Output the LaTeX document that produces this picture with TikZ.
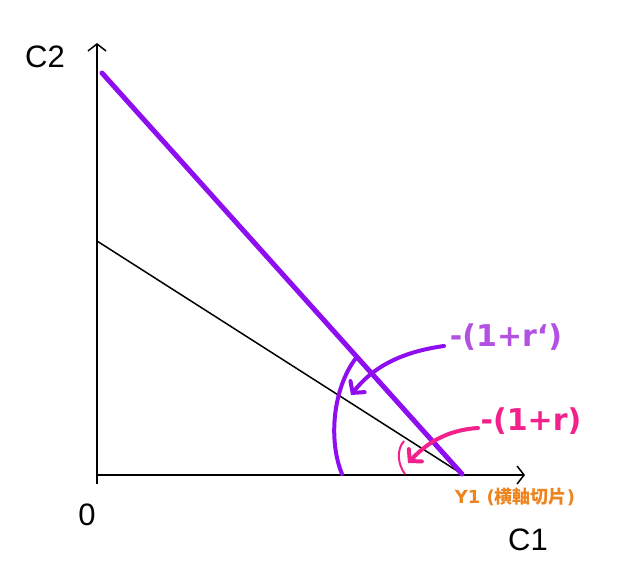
\documentclass[tikz,border=0pt]{standalone}
\usepackage{fontspec}
\setmainfont{Liberation Sans}
\newfontfamily\rfont{DejaVu Sans Bold}
\newfontfamily\cjk{Noto Sans CJK JP}
\usetikzlibrary{arrows.meta}
\definecolor{vio}{HTML}{8E0EF0}
\definecolor{lila}{HTML}{B352E2}
\definecolor{pinkr}{HTML}{F2218C}
\definecolor{orng}{HTML}{EE8420}

\begin{document}
\begin{tikzpicture}[
	x=1pt, y=-1pt,
	axis/.style = {line width=1.5pt, -{Straight Barb[length=7pt, width=18pt]}},
	lbl/.style = {font=\fontsize{31}{31}\selectfont, inner sep=0pt},
	rlbl/.style = {font=\rfont\fontsize{30}{30}\selectfont, inner sep=0pt},
	curly/.style = {line width=4pt, line cap=round, -{Straight Barb[length=8pt, width=18pt, line cap=round]}}
     ]
	\useasboundingbox (0,0) rectangle (620,568);
%
	\coordinate (o) at (97,475);
	\coordinate (ybot) at (97,484);
	\coordinate (ytop) at (97,43);
	\coordinate (xend) at (525,475);
	\coordinate (y1) at (462,474);
	\coordinate (v2) at (102,73);
	\coordinate (v1) at (97,241);
	\coordinate (rpfoot) at (444,346);
	\coordinate (rfoot) at (478,428);
%
	\node[lbl] (c2) at (45,57) {C2};
	\node[lbl] (zero) at (87,515) {0};
	\node[lbl] (c1) at (528,540) {C1};
	\node[rlbl, text=lila] (rp) at (506,337) {-(1+r‘)};
	\node[rlbl, text=pinkr] (r) at (531,421) {-(1+r)};
	\node[inner sep=0pt, text=orng, font=\rfont\fontsize{18}{18}\selectfont] (ylab) at (515,497) {Y1 ({\cjk\bfseries 横軸切片})};
%
	\draw[axis] (ybot) -- (ytop);
	\draw[axis] (o) -- (xend);
	\draw[line width=1.5pt] (v1) -- (y1);
	\draw[vio, line width=5pt, line cap=round] (v2) -- (y1);
%
	\draw[vio, line width=4pt, line cap=round]
	(356,358) .. controls (333,388) and (328,440) .. (342,474);
	\draw[pinkr, line width=2pt]
	(404,441) .. controls (396,450) and (398,465) .. (405,474);
%
	\draw[curly, vio] (rpfoot) .. controls (400,352) and (372,368) .. (351,395);
	\draw[curly, pinkr] (rfoot) .. controls (445,430) and (425,445) .. (408,463);
\end{tikzpicture}
\end{document}
